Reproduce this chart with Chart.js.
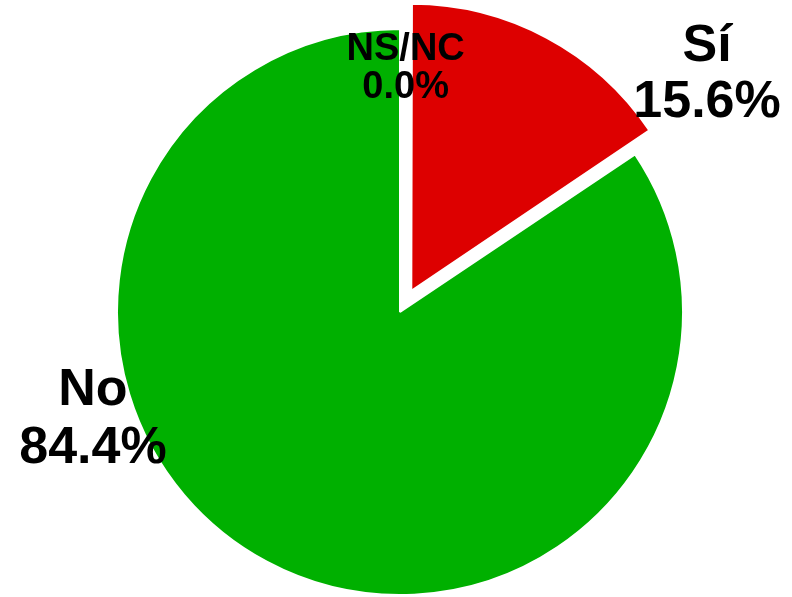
<!DOCTYPE html>
<html>
<head>
<meta charset="utf-8">
<script src="https://cdn.jsdelivr.net/npm/chart.js@4/dist/chart.umd.min.js"></script>
<style>
  html, body { margin: 0; padding: 0; background: #fff; }
  #box { width: 792px; height: 597px; }
</style>
</head>
<body>
<div id="box"><canvas id="grafico"></canvas></div>
<script>
// datos
var categorias = ['Sí', 'No', 'NS/NC'];
var porcentajes = [15.6, 84.4, 0.0];
var colores = ['#dd0000', '#00b000', '#999999'];
// Chart.js v4 traslada el arco offset/4 píxeles
var desplazamientos = [96, 0, 0];

// donde va cada etiqueta, relativo al centro y al radio del pastel
var posEtiquetas = [
    { dx: 1.085, dy: -0.84, size: 52, lh: 56 },
    { dx: -1.085, dy: 0.38, size: 52, lh: 58 },
    { dx: 0.02, dy: -0.86, size: 38, lh: 38 }
];

var etiquetas = {
    id: 'etiquetas',
    afterDatasetsDraw: function(chart) {
        var ctx = chart.ctx;
        var meta = chart.getDatasetMeta(0);
        var cx = (chart.chartArea.left + chart.chartArea.right) / 2;
        var cy = (chart.chartArea.top + chart.chartArea.bottom) / 2;
        var r = meta.data[1].outerRadius;
        ctx.save();
        ctx.fillStyle = '#000';
        ctx.textAlign = 'center';
        ctx.textBaseline = 'middle';
        categorias.forEach(function(cat, i) {
            var p = posEtiquetas[i];
            var x = cx + p.dx * r;
            var y = cy + p.dy * r;
            ctx.font = 'bold ' + p.size + 'px "Liberation Sans", Arial, sans-serif';
            ctx.fillText(cat, x, y - p.lh / 2);
            ctx.fillText(porcentajes[i].toFixed(1) + '%', x, y + p.lh / 2);
        });
        ctx.restore();
    }
};

var chart = new Chart(document.getElementById('grafico').getContext('2d'), {
    type: 'pie',
    data: {
        labels: categorias,
        datasets: [{
            data: porcentajes,
            backgroundColor: colores,
            borderColor: '#ffffff',
            borderWidth: 2,
            offset: desplazamientos,
            radius: 283,
            clip: false
        }]
    },
    options: {
        responsive: true,
        maintainAspectRatio: false,
        animation: false,
        layout: { padding: { top: 27, left: 8 } },
        plugins: {
            legend: { display: false },
            tooltip: { enabled: false }
        }
    },
    plugins: [etiquetas]
});
</script>
</body>
</html>
